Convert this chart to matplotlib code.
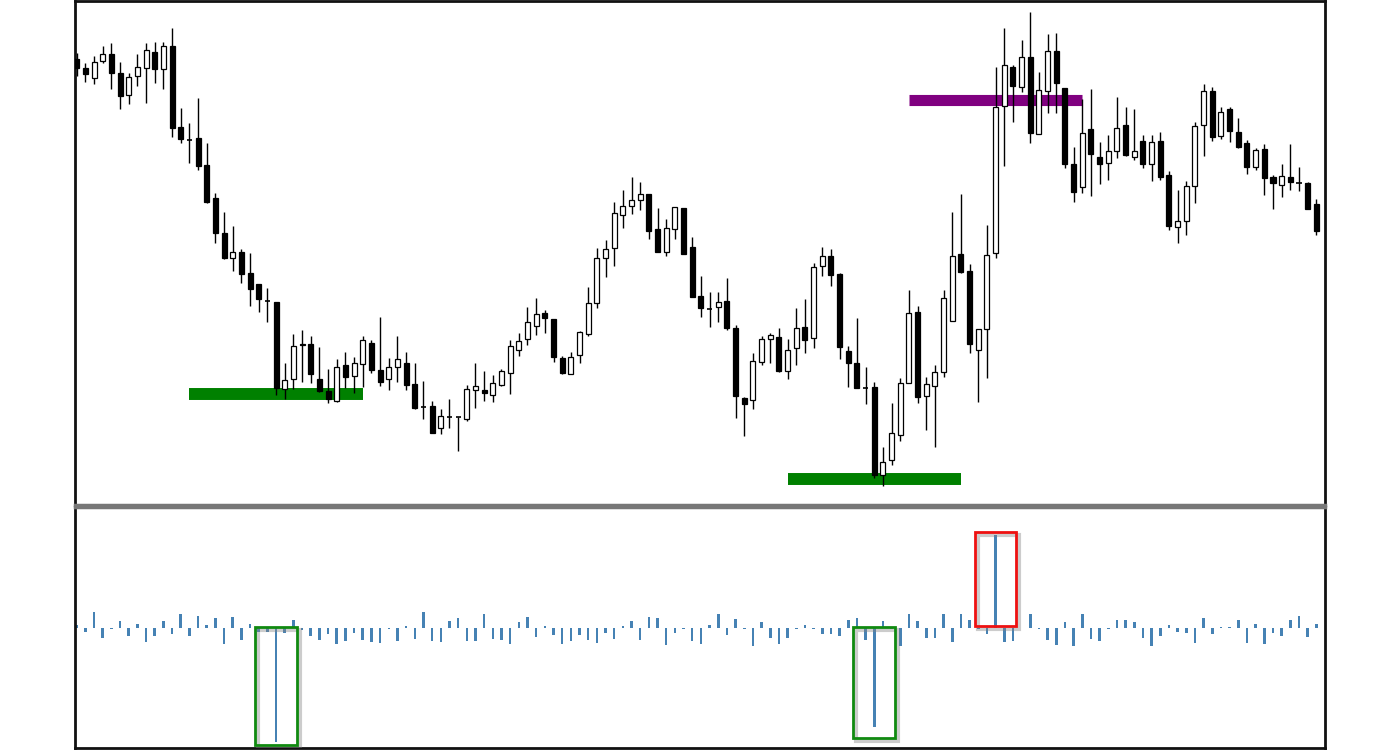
import matplotlib
matplotlib.use("Agg")
import matplotlib.pyplot as plt
import matplotlib.patheffects as pe
from matplotlib.patches import Rectangle
import numpy as np

# OHLC prices (chart points)
opens = [446, 437, 427, 444, 451, 432, 410, 429, 437, 453, 436, 459, 378, 365, 367, 340, 307, 272, 247, 253,
         232, 221, 204, 203, 116, 126, 161, 161, 126, 114, 104, 140, 129, 141, 162, 135, 126, 138, 142, 121,
         98, 99, 77, 88, 88, 86, 115, 115, 110, 120, 132, 155, 166, 179, 192, 186, 147, 131, 150, 171,
         202, 247, 257, 290, 299, 305, 311, 276, 253, 276, 297, 258, 209, 196, 198, 204, 177, 107, 105, 143,
         166, 168, 134, 157, 178, 167, 239, 249, 231, 154, 142, 117, 118, 30, 45, 70, 122, 193, 109, 119,
         133, 184, 251, 234, 155, 176, 252, 399, 438, 418, 448, 371, 414, 454, 417, 341, 318, 376, 348, 342,
         354, 380, 348, 364, 341, 364, 330, 278, 284, 319, 380, 414, 369, 396, 373, 362, 338, 356, 328, 320,
         328, 322, 322, 301]
highs = [452, 442, 449, 459, 462, 443, 432, 451, 462, 463, 463, 477, 397, 382, 407, 362, 312, 293, 279, 256,
         252, 221, 217, 203, 142, 171, 175, 169, 158, 136, 146, 153, 148, 169, 165, 188, 147, 169, 153, 142,
         124, 104, 96, 106, 88, 120, 142, 134, 130, 136, 165, 172, 198, 207, 195, 186, 149, 153, 174, 218,
         257, 265, 303, 315, 328, 323, 311, 297, 286, 298, 297, 268, 229, 213, 213, 227, 180, 108, 152, 169,
         172, 177, 166, 197, 206, 242, 258, 256, 232, 159, 187, 138, 123, 58, 102, 127, 215, 199, 128, 140,
         215, 293, 311, 241, 176, 280, 438, 477, 440, 465, 493, 433, 471, 472, 417, 358, 406, 416, 363, 370,
         408, 398, 396, 370, 370, 373, 334, 315, 324, 383, 421, 418, 398, 398, 387, 365, 357, 361, 330, 341,
         361, 338, 323, 306]
lows = [429, 423, 421, 442, 416, 396, 401, 419, 402, 422, 416, 368, 362, 342, 335, 302, 262, 246, 234, 222,
        199, 193, 183, 110, 106, 116, 123, 122, 113, 102, 103, 117, 112, 118, 132, 119, 115, 123, 115, 96,
        86, 72, 71, 77, 54, 84, 97, 104, 103, 119, 111, 149, 160, 170, 172, 143, 131, 131, 142, 169,
        197, 228, 239, 277, 291, 295, 266, 253, 249, 266, 251, 208, 188, 178, 183, 175, 87, 69, 96, 140,
        142, 133, 126, 140, 152, 157, 229, 219, 146, 118, 117, 101, 27, 19, 40, 64, 122, 102, 75, 58,
        128, 184, 232, 152, 103, 127, 247, 339, 383, 413, 362, 371, 392, 392, 337, 303, 312, 309, 321, 325,
        347, 349, 345, 337, 324, 325, 275, 262, 270, 302, 349, 364, 366, 363, 357, 331, 335, 310, 296, 308,
        315, 314, 296, 270]
closes = [437, 431, 443, 451, 432, 409, 428, 438, 455, 436, 459, 377, 366, 365, 339, 303, 272, 247, 253, 231,
          216, 206, 204, 117, 125, 159, 160, 131, 114, 106, 138, 128, 142, 165, 135, 123, 138, 146, 120, 97,
          98, 72, 89, 88, 88, 116, 119, 112, 122, 134, 159, 164, 183, 191, 187, 148, 132, 148, 173, 202,
          247, 256, 292, 299, 305, 311, 274, 253, 277, 298, 251, 208, 197, 196, 203, 177, 109, 101, 144, 166,
          170, 134, 155, 177, 165, 238, 249, 230, 158, 142, 117, 117, 30, 43, 72, 122, 192, 108, 121, 133,
          207, 249, 233, 161, 176, 250, 398, 440, 419, 448, 372, 415, 454, 422, 341, 313, 372, 351, 341, 354,
          377, 350, 354, 341, 363, 328, 279, 284, 319, 379, 414, 368, 393, 374, 358, 338, 355, 327, 322, 329,
          323, 322, 296, 274]

# indicator histogram (lower panel)
delta = [3, -4, 16, -10, -1, 7, -8, 4, -14, -8, 7, -6, 14, -8, 12, 3, 10, -16, 11, -12,
         4, -4, -4, -114, -5, 8, -2, -8, -12, -6, -16, -13, -5, -12, -14, -15, -1, -13, 2, -11,
         16, -13, -14, 7, 10, -13, -13, 14, -11, -12, -16, 6, 11, -9, 2, -7, -16, -13, -7, -12,
         -15, -5, -11, 2, 7, -12, 11, 10, -17, -5, -1, -13, -16, 3, 14, -7, 9, -1, -18, 6,
         -10, -16, -10, -1, 3, -1, -6, -6, -8, 8, 10, -12, -99, 7, -1, -18, 14, 7, -10, -10,
         14, -14, 14, 8, -1, -6, 93, -14, -13, 0.5, 14, -1, -12, -17, 6, -18, 14, -11, -13, -1,
         8, 8, 6, -10, -18, -8, 3, -4, -5, -15, 10, -6, 1, 1, 8, -15, 4, -16, -5, -8,
         8, 12, -9, 4]

# horizontal levels: price, first bar, last bar
support_price = [111, 26]
support_from = [13, 82]
support_to = [33, 102]
resist_price = [405]
resist_from = [96]
resist_to = [116]

# highlighted spikes in the lower panel
box_bar = [23, 92, 106]
box_low = [-117, -110, 2]
box_high = [1, 1, 96]
box_color = ['#108a10', '#108a10', '#ee1111']

o = np.array(opens, dtype=float)
h = np.array(highs, dtype=float)
l = np.array(lows, dtype=float)
c = np.array(closes, dtype=float)
x = np.arange(len(o))

fig = plt.figure(figsize=(14, 7.5), dpi=100)
ax1 = fig.add_axes([75 / 1400, 245 / 750, 1250 / 1400, 504 / 750])
ax2 = fig.add_axes([75 / 1400, 2 / 750, 1250 / 1400, 241 / 750])

# levels under the candles
for p, a, b in zip(support_price, support_from, support_to):
    ax1.plot([a, b], [p, p], color='#008000', linewidth=8.6, solid_capstyle='butt', zorder=1)
for p, a, b in zip(resist_price, resist_from, resist_to):
    ax1.plot([a, b], [p, p], color='#800080', linewidth=8.0, solid_capstyle='butt', zorder=1)

# candles
ax1.vlines(x, l, h, color='black', linewidth=1.0, zorder=2)
up = c > o
flat = c == o
body_col = np.where(up, 'white', 'black')
ax1.bar(x[~flat], np.abs(c - o)[~flat], bottom=np.minimum(o, c)[~flat], width=0.58,
        color=body_col[~flat], edgecolor='black', linewidth=0.9, zorder=3)
ax1.hlines(o[flat], x[flat] - 0.29, x[flat] + 0.29, color='black', linewidth=1.2, zorder=3)

ax1.set_xlim(-0.2, 144)
ax1.set_ylim(0, 504)

# lower panel histogram
ax2.bar(x, delta, width=0.3, color='#4682B4', zorder=2)
shadow = [pe.SimpleLineShadow(offset=(2, -2), shadow_color='gray', alpha=0.4, linewidth=3),
          pe.Normal()]
for b, lo, hi, col in zip(box_bar, box_low, box_high, box_color):
    r = Rectangle((b - 2.4, lo), 4.8, hi - lo, fill=False, edgecolor=col, linewidth=2, zorder=3)
    r.set_path_effects(shadow)
    ax2.add_patch(r)
ax2.set_xlim(-0.2, 144)
ax2.set_ylim(-120, 121)

for ax in (ax1, ax2):
    ax.set_xticks([])
    ax.set_yticks([])
    for s in ax.spines.values():
        s.set_color('#111111')
        s.set_linewidth(2)
ax1.spines['bottom'].set_color('#777777')
ax1.spines['bottom'].set_linewidth(2.5)
ax2.spines['top'].set_color('#777777')
ax2.spines['top'].set_linewidth(2.5)

fig.savefig('out.png', dpi=100, facecolor='white')
